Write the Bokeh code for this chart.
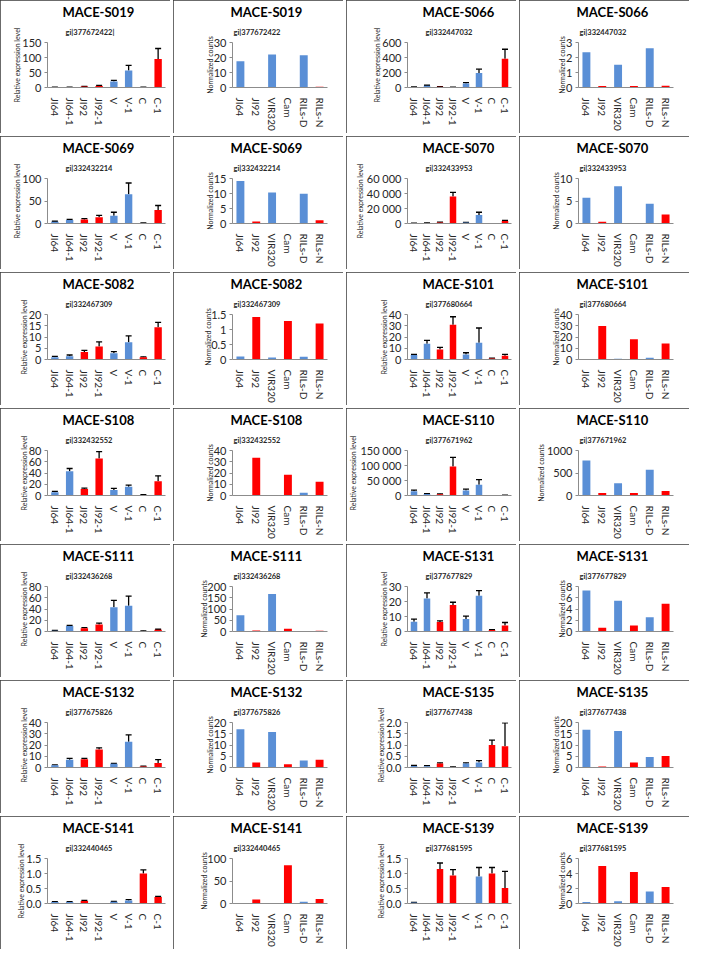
from bokeh.plotting import figure
from bokeh.models import (FactorRange, Range1d, FixedTicker, Title, Whisker,
                          ColumnDataSource, TeeHead, InlineStyleSheet)
from bokeh.layouts import gridplot
from bokeh.embed import file_html
from bokeh.resources import INLINE

# ---------------- data ----------------
qpcr_categories = ["JI64", "JI64-1", "JI92", "JI92-1", "V", "V-1", "C", "C-1"]
qpcr_groups = ["D", "D", "N", "N", "D", "D", "N", "N"]
count_categories = ["JI64", "JI92", "VIR320", "Cam", "RILs-D", "RILs-N"]
count_groups = ["D", "N", "D", "N", "D", "N"]

gene_order = ["MACE-S019", "MACE-S066", "MACE-S069", "MACE-S070", "MACE-S082",
              "MACE-S101", "MACE-S108", "MACE-S110", "MACE-S111", "MACE-S131",
              "MACE-S132", "MACE-S135", "MACE-S141", "MACE-S139"]

gi_qpcr = ["gi|377672422|", "gi|332447032", "gi|332432214", "gi|332433953", "gi|332467309",
           "gi|377680664", "gi|332432552", "gi|377671962", "gi|332436268", "gi|377677829",
           "gi|377675826", "gi|377677438", "gi|332440465", "gi|377681595"]
gi_counts = ["gi|377672422", "gi|332447032", "gi|332432214", "gi|332433953", "gi|332467309",
             "gi|377680664", "gi|332432552", "gi|377671962", "gi|332436268", "gi|377677829",
             "gi|377675826", "gi|377677438", "gi|332440465", "gi|377681595"]

# relative expression level (qRT-PCR), one list per gene
s019_qpcr = [1, 1, 3, 5, 20, 57, 1, 95]
s066_qpcr = [5, 25, 10, 3, 55, 195, 0, 385]
s069_qpcr = [4, 8, 9, 14, 17, 65, 1, 30]
s070_qpcr = [300, 700, 1500, 36000, 1200, 11500, 0, 3500]
s082_qpcr = [1.0, 1.5, 3.3, 5.8, 2.8, 7.7, 1.0, 14.3]
s101_qpcr = [4, 14, 8.8, 31, 4.5, 15, 1, 3.4]
s108_qpcr = [6, 43, 11.5, 66, 10, 15.5, 1, 25.5]
s110_qpcr = [14000, 5000, 4500, 97000, 17000, 36000, 0, 1000]
s111_qpcr = [1.5, 10, 6, 12.5, 43, 46, 1, 3]
s131_qpcr = [6.5, 22, 6.3, 17.7, 8.3, 23.8, 1, 4]
s132_qpcr = [2, 7, 7.3, 16, 3.3, 23, 1, 4]
s135_qpcr = [0.07, 0.06, 0.18, 0.02, 0.18, 0.22, 1.0, 0.95]
s141_qpcr = [0.05, 0.05, 0.08, 0.01, 0.06, 0.1, 1.0, 0.22]
s139_qpcr = [0.03, 0.01, 1.15, 0.93, 0.0, 0.9, 1.0, 0.52]

# standard errors (upper error bars)
s019_err = [0.5, 0.5, 1, 2, 4, 17, 0.3, 35]
s066_err = [2, 5, 3, 1, 10, 50, 0, 125]
s069_err = [1, 1, 2, 4, 8, 25, 0.3, 10]
s070_err = [100, 200, 400, 5500, 400, 3500, 0, 800]
s082_err = [0.4, 0.5, 0.8, 2, 0.7, 2.8, 0.2, 2.2]
s101_err = [0.5, 3, 2, 7, 1.5, 13, 0.2, 1.2]
s108_err = [1.5, 5, 1.5, 12, 2.5, 3, 0.3, 9.5]
s110_err = [4000, 1500, 1000, 30000, 4000, 17000, 0, 500]
s111_err = [0.5, 1, 0.8, 2.5, 12.5, 17, 0.2, 1]
s131_err = [1.8, 3.7, 0.8, 1.8, 2, 3.5, 0.2, 2]
s132_err = [0.3, 1.2, 0.8, 1.5, 0.3, 6, 0.2, 3]
s135_err = [0.02, 0.02, 0.03, 0.01, 0.03, 0.09, 0.22, 1.03]
s141_err = [0.01, 0.01, 0.02, 0.0, 0.01, 0.03, 0.12, 0.02]
s139_err = [0.01, 0.0, 0.2, 0.2, 0.0, 0.3, 0.2, 0.55]

# normalized MACE counts
s019_counts = [17.5, 0, 22, 0, 21.5, 0.5]
s066_counts = [2.35, 0.1, 1.52, 0.1, 2.62, 0.12]
s069_counts = [14.2, 0.7, 10.3, 0.1, 9.9, 1.1]
s070_counts = [5.7, 0.4, 8.3, 0, 4.4, 2.0]
s082_counts = [0.1, 1.42, 0.07, 1.28, 0.09, 1.2]
s101_counts = [0, 29.8, 0.7, 18, 1.5, 14.3]
s108_counts = [0, 33.5, 0, 18.5, 2.5, 12.3]
s110_counts = [780, 55, 270, 55, 570, 100]
s111_counts = [72, 5, 167, 12, 1, 3]
s131_counts = [7.3, 0.65, 5.45, 1.05, 2.55, 4.95]
s132_counts = [17, 2.2, 15.8, 1.5, 3.1, 3.4]
s135_counts = [16.8, 0.5, 16.2, 2.2, 4.7, 5.1]
s141_counts = [0, 9, 0, 85, 4, 10]
s139_counts = [0.2, 5.0, 0.3, 4.2, 1.6, 2.2]

# axis ticks
qpcr_ticks = [
    [0, 50, 100, 150], [0, 200, 400, 600], [0, 50, 100], [0, 20000, 40000, 60000],
    [0, 5, 10, 15, 20], [0, 10, 20, 30, 40], [0, 20, 40, 60, 80], [0, 50000, 100000, 150000],
    [0, 20, 40, 60, 80], [0, 10, 20, 30], [0, 10, 20, 30, 40], [0, 0.5, 1.0, 1.5, 2.0],
    [0, 0.5, 1.0, 1.5], [0, 0.5, 1.0, 1.5]]
qpcr_tick_labels = [
    ["0", "50", "100", "150"], ["0", "200", "400", "600"], ["0", "50", "100"],
    ["0", "20 000", "40 000", "60 000"], ["0", "5", "10", "15", "20"],
    ["0", "10", "20", "30", "40"], ["0", "20", "40", "60", "80"],
    ["0", "50 000", "100 000", "150 000"], ["0", "20", "40", "60", "80"],
    ["0", "10", "20", "30"], ["0", "10", "20", "30", "40"],
    ["0.0", "0.5", "1.0", "1.5", "2.0"], ["0.0", "0.5", "1.0", "1.5"], ["0.0", "0.5", "1.0", "1.5"]]
count_ticks = [
    [0, 10, 20, 30], [0, 1, 2, 3], [0, 5, 10, 15], [0, 5, 10], [0, 0.5, 1, 1.5],
    [0, 10, 20, 30, 40], [0, 10, 20, 30, 40], [0, 500, 1000], [0, 50, 100, 150, 200],
    [0, 2, 4, 6, 8], [0, 5, 10, 15, 20], [0, 5, 10, 15, 20], [0, 50, 100], [0, 2, 4, 6]]
count_tick_labels = [
    ["0", "10", "20", "30"], ["0", "1", "2", "3"], ["0", "5", "10", "15"], ["0", "5", "10"],
    ["0", "0.5", "1", "1.5"], ["0", "10", "20", "30", "40"], ["0", "10", "20", "30", "40"],
    ["0", "500", "1000"], ["0", "50", "100", "150", "200"], ["0", "2", "4", "6", "8"],
    ["0", "5", "10", "15", "20"], ["0", "5", "10", "15", "20"], ["0", "50", "100"],
    ["0", "2", "4", "6"]]

qpcr_values = [s019_qpcr, s066_qpcr, s069_qpcr, s070_qpcr, s082_qpcr, s101_qpcr, s108_qpcr,
               s110_qpcr, s111_qpcr, s131_qpcr, s132_qpcr, s135_qpcr, s141_qpcr, s139_qpcr]
qpcr_errors = [s019_err, s066_err, s069_err, s070_err, s082_err, s101_err, s108_err,
               s110_err, s111_err, s131_err, s132_err, s135_err, s141_err, s139_err]
count_values = [s019_counts, s066_counts, s069_counts, s070_counts, s082_counts, s101_counts,
                s108_counts, s110_counts, s111_counts, s131_counts, s132_counts, s135_counts,
                s141_counts, s139_counts]

# ---------------- style ----------------
BLUE = "#5A8FD6"
RED = "#FF0000"
GROUP_COLOR = {"D": BLUE, "N": RED}
FONT = "Lato"
W, H = 170, 133
AXIS_COLOR = "#8c8c8c"
TEXT_COLOR = "#262626"
TITLE_W = 66           # effective width used to centre "MACE-Sxxx"
SUB_W = 60             # effective width used to centre the gi| line
BORDER_CSS = InlineStyleSheet(css=":host { outline: 1.4px solid #3a3a3a; outline-offset: -1.5px; }")
QPCR_LABEL_STANDOFF = {1: -2, 2: -2, 3: -2}
COUNT_LABEL_STANDOFF = {1: -3, 2: -3, 3: -4, 4: -1}


def add_titles(p, name, gi, frame_left, center):
    sub = Title(text=gi, align="left", text_font=FONT, text_font_size="7.5px",
                text_font_style="bold", text_color=TEXT_COLOR, standoff=12,
                offset=center - frame_left - SUB_W / 2)
    main = Title(text=name, align="left", text_font=FONT, text_font_size="13px",
                 text_font_style="bold", text_color="#000000", standoff=0,
                 offset=center - frame_left - TITLE_W / 2)
    p.add_layout(sub, "above")
    p.add_layout(main, "above")


def style_axes(p, ticks, labels, ylabel, label_standoff):
    p.xgrid.visible = False
    p.ygrid.visible = False
    p.outline_line_color = None
    p.background_fill_color = "white"
    p.border_fill_color = "white"
    y = p.yaxis[0]
    y.ticker = FixedTicker(ticks=ticks)
    y.major_label_overrides = {float(t): l for t, l in zip(ticks, labels)}
    y.axis_label = ylabel
    y.axis_label_text_font = FONT
    y.axis_label_text_font_size = "7px"
    y.axis_label_text_font_style = "normal"
    y.axis_label_text_color = TEXT_COLOR
    y.axis_label_standoff = label_standoff
    y.major_label_text_font = FONT
    y.major_label_text_font_size = "11px"
    y.major_label_text_color = TEXT_COLOR
    y.major_label_standoff = 3
    y.axis_line_color = AXIS_COLOR
    y.major_tick_line_color = AXIS_COLOR
    y.major_tick_out = 3
    y.major_tick_in = 0
    y.minor_tick_line_color = None
    x = p.xaxis[0]
    x.major_label_orientation = "vertical"
    x.major_label_text_font = FONT
    x.major_label_text_font_size = "10px"
    x.major_label_text_color = TEXT_COLOR
    x.major_label_standoff = 4
    x.axis_line_color = AXIS_COLOR
    x.major_tick_line_color = None
    x.minor_tick_line_color = None
    p.stylesheets = [BORDER_CSS]


def qpcr_panel(i):
    cats = qpcr_categories
    vals = qpcr_values[i]
    errs = qpcr_errors[i]
    ticks = qpcr_ticks[i]
    labels = qpcr_tick_labels[i]
    left = 47
    p = figure(width=W, height=H, output_backend="svg", toolbar_location=None,
               x_range=FactorRange(factors=cats, range_padding=0, factor_padding=0),
               y_range=Range1d(0, ticks[-1]),
               min_border_left=left, min_border_right=5, min_border_top=42,
               min_border_bottom=37)
    src = ColumnDataSource(dict(cat=cats, val=vals,
                                color=[GROUP_COLOR[g] for g in qpcr_groups]))
    p.vbar(x="cat", top="val", width=0.5, fill_color="color", line_color=None, source=src)
    ec, lo, hi = [], [], []
    for c, v, e in zip(cats, vals, errs):
        if e > 0:
            ec.append(c)
            lo.append(v)
            hi.append(v + e)
    wsrc = ColumnDataSource(dict(cat=ec, lower=lo, upper=hi))
    p.add_layout(Whisker(base="cat", lower="lower", upper="upper", source=wsrc,
                         line_color="black", line_width=1.3, lower_head=None,
                         upper_head=TeeHead(size=6, line_color="black", line_width=1.3)))
    n = max(len(s) for s in labels)
    style_axes(p, ticks, labels, "Relative expression level", QPCR_LABEL_STANDOFF.get(n, 0))
    add_titles(p, gene_order[i], gi_qpcr[i], left, 95)
    return p


def count_panel(i):
    cats = count_categories
    vals = count_values[i]
    ticks = count_ticks[i]
    labels = count_tick_labels[i]
    left = 59
    p = figure(width=W, height=H, output_backend="svg", toolbar_location=None,
               x_range=FactorRange(factors=cats, range_padding=0, factor_padding=0),
               y_range=Range1d(0, ticks[-1]),
               min_border_left=left, min_border_right=16, min_border_top=42,
               min_border_bottom=42)
    src = ColumnDataSource(dict(cat=cats, val=vals,
                                color=[GROUP_COLOR[g] for g in count_groups]))
    p.vbar(x="cat", top="val", width=0.5, fill_color="color", line_color=None, source=src)
    n = max(len(s) for s in labels)
    style_axes(p, ticks, labels, "Normalized counts", COUNT_LABEL_STANDOFF[n])
    add_titles(p, gene_order[i], gi_counts[i], left, 90)
    return p


panels = []
for r in range(7):
    for k in range(2):
        gi_index = 2 * r + k
        panels.append(qpcr_panel(gi_index))
        panels.append(count_panel(gi_index))

grid = gridplot(panels, ncols=4, toolbar_location=None)
grid.spacing = 3

open("out.html", "w").write(file_html(grid, INLINE))
